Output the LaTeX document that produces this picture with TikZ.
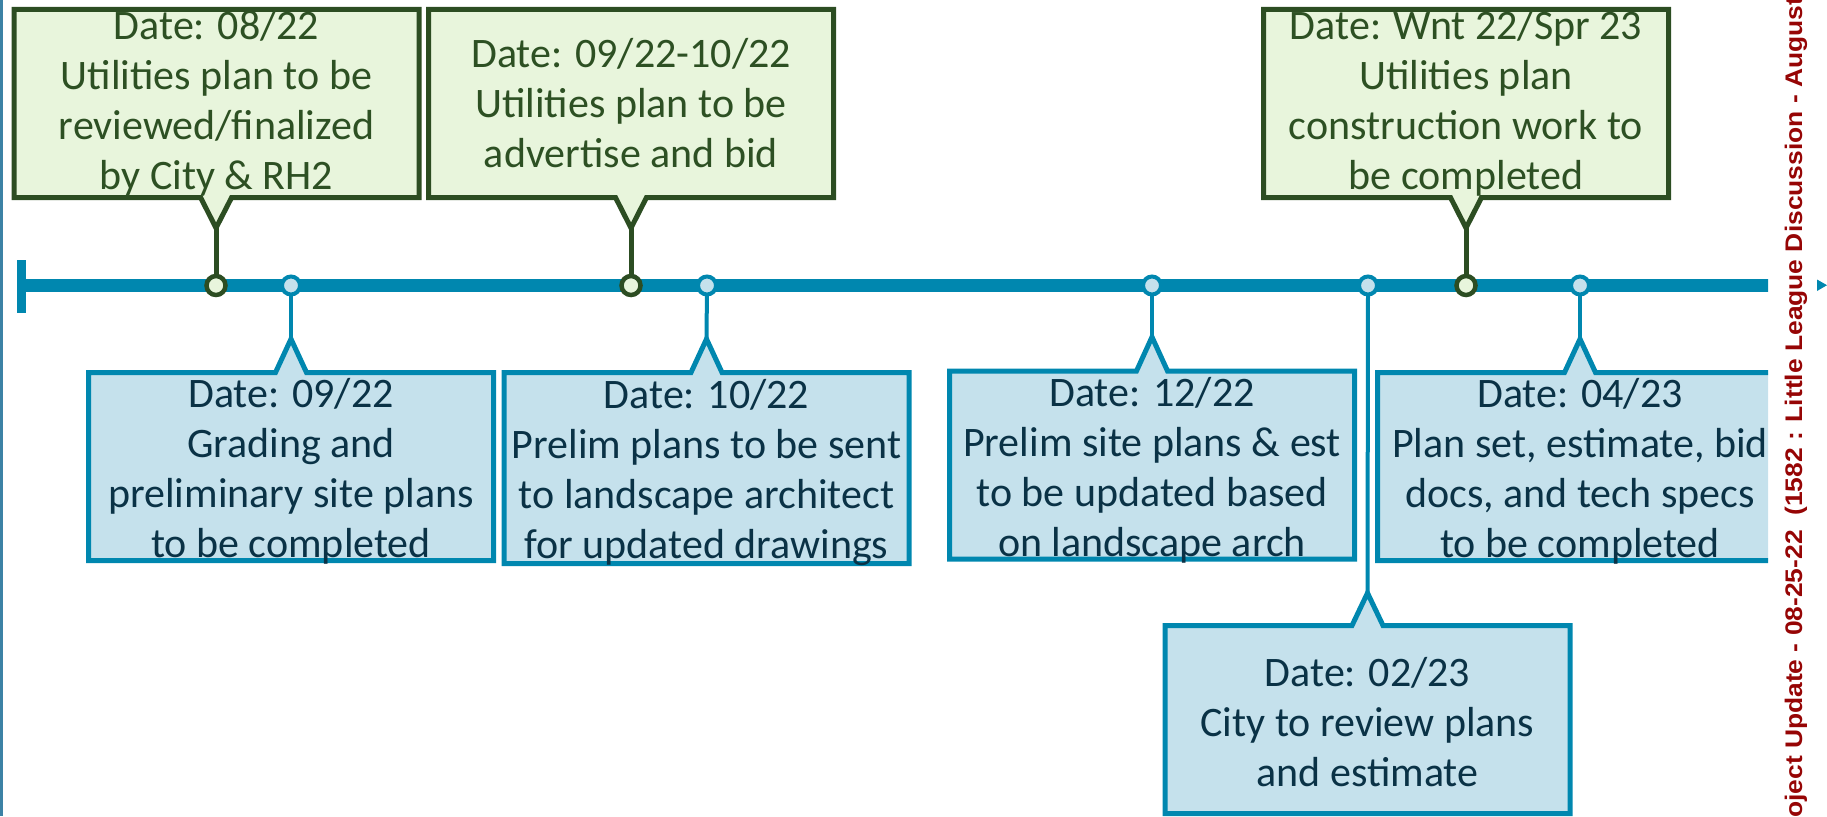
\documentclass[tikz,border=0pt]{standalone}
\usepackage{fontspec}
\setmainfont{Carlito}
\newfontfamily\sidefont{Liberation Sans}
\usetikzlibrary{shapes.callouts}

\definecolor{lineblue}{RGB}{0,135,175}
\definecolor{paleblue}{RGB}{197,225,236}
\definecolor{navytext}{RGB}{10,50,70}
\definecolor{darkgreen}{RGB}{44,77,34}
\definecolor{palegreen}{RGB}{232,245,220}
\definecolor{greentext}{RGB}{45,80,35}
\definecolor{sidered}{RGB}{150,5,5}
\definecolor{edgeblue}{RGB}{60,130,165}

\tikzset{
  callbox/.style={rectangle callout, inner sep=0pt, outer sep=0pt,
    minimum width=405pt, minimum height=188pt,
    callout pointer width=31pt, line width=5pt},
  greenbox/.style={callbox, draw=darkgreen, fill=palegreen},
  bluebox/.style={callbox, draw=lineblue, fill=paleblue},
  boxtext/.style={align=center, inner sep=0pt, font=\fontsize{42}{50}\selectfont},
  greentxt/.style={boxtext, text=greentext},
  bluetxt/.style={boxtext, text=navytext, yshift=-5pt},
  greenstem/.style={draw=darkgreen, line width=5pt},
  bluestem/.style={draw=lineblue, line width=4pt},
  greendot/.style={circle, draw=darkgreen, fill=palegreen, line width=4.5pt,
    minimum size=19pt, inner sep=0pt},
  bluedot/.style={circle, draw=lineblue, fill=paleblue, line width=4pt,
    minimum size=18pt, inner sep=0pt},
  sidetext/.style={rotate=90, anchor=base west, inner sep=0pt, text=sidered,
    font=\sidefont\bfseries\fontsize{24}{28}\selectfont},
}

\begin{document}
\begin{tikzpicture}[x=1pt,y=-1pt]
\useasboundingbox (0,0) rectangle (1827,816);

% slide edge
\coordinate (edgeT) at (1.3,0);
\coordinate (edgeB) at (1.3,816);
\draw[edgeblue, line width=2.6pt] (edgeT) -- (edgeB);

\begin{scope}
\clip (0,0) rectangle (1768,816);

% timeline axis with its start tick
\coordinate (tlstart) at (21.5,285.5);
\coordinate (tlend) at (1790,285.5);
\coordinate (tickT) at (21.5,260);
\coordinate (tickB) at (21.5,313);
\draw[lineblue, line width=13pt] (tlstart) -- (tlend);
\draw[lineblue, line width=9pt] (tickT) -- (tickB);

% milestone positions on the axis
\coordinate (mg1) at (216,285.5);
\coordinate (mg2) at (631,285.5);
\coordinate (mg3) at (1466,285.5);
\coordinate (mb1) at (291,285.5);
\coordinate (mb2) at (707,285.5);
\coordinate (mb3) at (1152,285.5);
\coordinate (mb4) at (1368,285.5);
\coordinate (mb5) at (1580,285.5);

% callouts above the axis
\node[greenbox, callout absolute pointer={(216,228)}] (g1) at (216.5,103.5) {};
\node[greentxt] (g1t) at (g1.center)
  {Date: 08/22\\Utilities plan to be\\reviewed/finalized\\by City \& RH2};

\node[greenbox, callout absolute pointer={(631,228)}] (g2) at (631,103.5) {};
\node[greentxt] (g2t) at (g2.center)
  {Date: 09/22-10/22\\Utilities plan to be\\advertise and bid};

\node[greenbox, callout absolute pointer={(1466,228)}] (g3) at (1466,103.5) {};
\node[greentxt] (g3t) at (g3.center)
  {Date: Wnt 22/Spr 23\\Utilities plan\\construction work to\\be completed};

% callouts below the axis
\node[bluebox, callout absolute pointer={(291,339)}] (b1) at (291,466.5) {};
\node[bluetxt] (b1t) at (b1.center)
  {Date: 09/22\\Grading and\\preliminary site plans\\to be completed};

\node[bluebox, minimum height=191pt, callout absolute pointer={(706.5,339)}] (b2) at (706.5,468) {};
\node[bluetxt] (b2t) at (b2.center)
  {Date: 10/22\\Prelim plans to be sent\\to landscape architect\\for updated drawings};

\node[bluebox, callout absolute pointer={(1152,337)}] (b3) at (1152,465) {};
\node[bluetxt] (b3t) at (b3.center)
  {Date: 12/22\\Prelim site plans \& est\\to be updated based\\on landscape arch};

\node[bluebox, callout absolute pointer={(1367.5,593)}] (b4) at (1367.5,719.5) {};
\node[bluetxt, yshift=2pt] (b4t) at (b4.center)
  {Date: 02/23\\City to review plans\\and estimate};

\node[bluebox, callout absolute pointer={(1580,339)}] (b5) at (1580,466.5) {};
\node[bluetxt] (b5t) at (b5.center)
  {Date: 04/23\\Plan set, estimate, bid\\docs, and tech specs\\to be completed};

% stems from callouts to the axis
\draw[greenstem] (g1.pointer) -- (mg1);
\draw[greenstem] (g2.pointer) -- (mg2);
\draw[greenstem] (g3.pointer) -- (mg3);
\draw[bluestem] (b1.pointer) -- (mb1);
\draw[bluestem] (b2.pointer) -- (mb2);
\draw[bluestem] (b3.pointer) -- (mb3);
\draw[bluestem] (b4.pointer) -- (mb4);
\draw[bluestem] (b5.pointer) -- (mb5);

% milestone dots
\node[greendot] (dg1) at (mg1) {};
\node[greendot] (dg2) at (mg2) {};
\node[greendot] (dg3) at (mg3) {};
\node[bluedot] (db1) at (mb1) {};
\node[bluedot] (db2) at (mb2) {};
\node[bluedot] (db3) at (mb3) {};
\node[bluedot] (db4) at (mb4) {};
\node[bluedot] (db5) at (mb5) {};
\end{scope}

% footer running up the right margin
\node[sidetext] (footer) at (1802,818)
  {\scalebox{1.1}[1]{oject Update - 08-25-22\ \ (1582 : Little League Discussion - August}};

% small navigation marker
\fill[lineblue] (1817,279.5) -- (1817,291) -- (1827,285.2) -- cycle;
\end{tikzpicture}
\end{document}
